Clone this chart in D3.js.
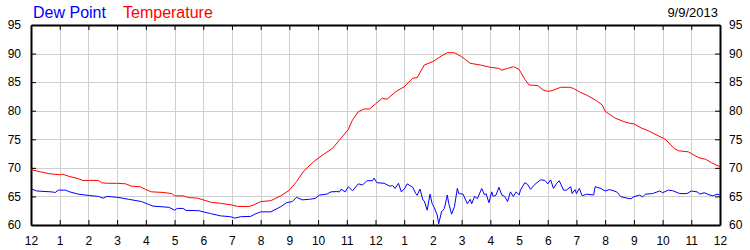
<!DOCTYPE html>
<html><head><meta charset="utf-8">
<script src="https://cdn.jsdelivr.net/npm/d3@7"></script>
<style>
html,body{margin:0;padding:0;background:#fff;}
svg{display:block;font-family:Arial,"Liberation Sans",sans-serif;}
</style></head>
<body>
<svg id="chart" width="750" height="250"></svg>
<script>
const hourLabels = ["12","1","2","3","4","5","6","7","8","9","10","11","12","1","2","3","4","5","6","7","8","9","10","11","12"];
const yTicks = [60,65,70,75,80,85,90,95];
const dateLabel = "9/9/2013";
const seriesNames = ["Dew Point","Temperature"];

const tempHours = [0,0.33,0.66,1.0,1.1,1.33,1.66,1.8,2.0,2.35,2.45,2.66,3.0,3.3,3.5,3.8,4.0,4.2,4.6,4.9,5.0,5.3,5.5,5.8,6.0,6.25,6.6,7.0,7.2,7.6,7.75,8.0,8.35,8.7,9.0,9.25,9.5,9.85,10.2,10.5,10.75,11.05,11.2,11.4,11.6,11.8,12.0,12.24,12.4,12.7,13.0,13.3,13.45,13.7,14.0,14.3,14.5,14.75,15.0,15.3,15.65,16.0,16.3,16.4,16.6,16.8,17.0,17.2,17.35,17.65,17.85,18.0,18.15,18.45,18.75,18.9,19.1,19.35,19.7,19.9,20.0,20.35,20.65,20.85,21.0,21.25,21.5,21.85,22.1,22.4,22.55,22.9,23.0,23.25,23.5,23.7,24];
const tempValues = [69.7,69.3,68.95,68.8,68.9,68.5,68.1,67.8,67.8,67.8,67.4,67.3,67.3,67.2,66.8,66.7,66.2,65.8,65.7,65.5,65.1,65.1,64.8,64.7,64.4,64.0,63.8,63.5,63.25,63.25,63.5,64.1,64.25,65.1,66.1,67.6,69.45,71.1,72.4,73.4,74.9,76.7,78.4,79.8,80.3,80.3,81.2,82.2,82.0,83.3,84.2,85.7,85.8,88.0,88.6,89.6,90.15,90.15,89.45,88.3,88.0,87.6,87.4,87.1,87.4,87.7,87.25,85.5,84.5,84.4,83.6,83.4,83.5,84.1,84.1,83.9,83.3,82.75,81.75,81.0,79.9,78.7,78.1,77.8,77.7,77.0,76.5,75.6,75.0,73.4,73.0,72.8,72.5,71.8,71.5,70.9,70.2];

const dewHours = [0,0.2,0.7,0.85,0.95,1.2,1.35,1.65,2.05,2.35,2.5,2.65,3.0,3.4,3.85,4.1,4.25,4.8,5.0,5.1,5.3,5.4,5.85,6.0,6.25,6.6,6.95,7.1,7.3,7.65,7.8,8.0,8.35,8.7,8.9,9.1,9.25,9.45,9.7,9.9,10.05,10.3,10.45,10.65,10.75,10.8,10.95,11.05,11.2,11.4,11.55,11.7,11.9,11.95,12.05,12.3,12.5,12.6,12.68,12.8,12.9,13.03,13.1,13.3,13.4,13.45,13.55,13.65,13.7,13.8,13.9,13.97,14.05,14.15,14.2,14.3,14.4,14.5,14.55,14.65,14.75,14.85,14.9,15.05,15.2,15.3,15.35,15.45,15.55,15.7,15.8,15.85,15.95,16.05,16.1,16.2,16.3,16.4,16.5,16.6,16.7,16.8,16.9,17.0,17.05,17.2,17.3,17.4,17.55,17.75,17.9,18.0,18.1,18.2,18.3,18.4,18.55,18.65,18.8,18.85,18.95,19.0,19.1,19.2,19.35,19.6,19.65,19.85,20.0,20.15,20.4,20.55,20.8,20.9,21.0,21.2,21.3,21.4,21.65,21.9,22.0,22.2,22.35,22.6,22.85,23.0,23.2,23.3,23.45,23.65,23.75,23.9,24];
const dewValues = [66.35,65.95,65.8,65.7,66.1,66.1,65.8,65.4,65.15,65.0,64.7,65.0,64.85,64.5,64.1,63.6,63.3,63.1,62.6,62.9,62.9,62.55,62.5,62.3,62.0,61.6,61.45,61.2,61.45,61.5,61.9,62.3,62.3,63.2,63.9,64.1,64.85,64.4,64.5,64.65,65.25,65.4,65.8,65.85,65.8,66.25,65.8,66.7,66.0,67.2,67.0,67.75,67.75,68.2,67.4,67.3,66.8,66.9,66.4,67.3,65.8,66.5,67.2,66.6,65.5,65.2,66.3,64.4,64.2,62.6,65.4,63.8,63.0,61.75,60.2,62.3,62.9,65.25,63.8,61.9,63.2,66.4,65.5,65.4,63.7,64.5,63.7,65.0,64.6,66.4,65.25,65.5,63.9,65.8,65.0,65.25,66.6,65.25,65.0,64.1,65.8,65.0,65.8,65.25,66.1,67.4,67.1,66.25,67.1,67.9,67.8,67.2,67.9,66.4,67.2,67.75,66.1,66.1,66.7,65.5,66.2,65.5,66.4,65.1,65.4,65.25,66.7,66.4,65.95,66.2,65.8,64.95,64.65,64.6,64.95,65.25,64.9,65.4,65.5,65.95,65.65,66.1,66.0,65.5,65.5,65.95,65.8,65.4,65.65,65.25,65.1,65.4,65.25];

const svg = d3.select("#chart");
const L = 31, R = 720, T = 25, B = 225;
const x = d3.scaleLinear().domain([0,24]).range([L,R]);
const y = d3.scaleLinear().domain([60,95]).range([B,T]);
const hourIdx = d3.range(hourLabels.length);

// grid
const grid = svg.append("g").attr("stroke","#d0d0d0").attr("stroke-width",1);
grid.selectAll("line.v").data(hourIdx.slice(1,-1)).join("line")
  .attr("x1",d=>Math.round(x(d))+0.5).attr("x2",d=>Math.round(x(d))+0.5)
  .attr("y1",T).attr("y2",B);
grid.selectAll("line.h").data(yTicks.slice(1,-1)).join("line")
  .attr("y1",d=>Math.round(y(d))+0.5).attr("y2",d=>Math.round(y(d))+0.5)
  .attr("x1",L).attr("x2",R);

// axes via d3
const axB = d3.axisBottom(x).tickValues(hourIdx).tickFormat(i=>hourLabels[i]).tickSizeInner(-5).tickSizeOuter(0).tickPadding(11);
const axT = d3.axisTop(x).tickValues(hourIdx).tickFormat("").tickSizeInner(-5).tickSizeOuter(0);
const axL = d3.axisLeft(y).tickValues(yTicks).tickSizeInner(-5).tickSizeOuter(0).tickPadding(10);
const axR = d3.axisRight(y).tickValues(yTicks).tickSizeInner(-5).tickSizeOuter(0).tickPadding(9);

function style(g){
  g.select(".domain").attr("stroke","#000").attr("stroke-width",2);
  g.selectAll(".tick line").attr("stroke","#000").attr("stroke-width",1);
  g.selectAll(".tick text").attr("fill","#000").style("font-size","12px").style("font-family","Arial, 'Liberation Sans', sans-serif");
}
svg.append("g").attr("transform",`translate(0,${B})`).call(axB).call(style);
svg.append("g").attr("transform",`translate(0,${T})`).call(axT).call(style);
svg.append("g").attr("transform",`translate(${L},0)`).call(axL).call(style);
svg.append("g").attr("transform",`translate(${R},0)`).call(axR).call(style);

// lines
const line = d3.line().x(d=>x(d[0])).y(d=>y(d[1]));
svg.append("path").datum(d3.zip(dewHours,dewValues))
  .attr("fill","none").attr("stroke","#0000ff").attr("stroke-width",1).attr("d",line);
svg.append("path").datum(d3.zip(tempHours,tempValues))
  .attr("fill","none").attr("stroke","#ff0000").attr("stroke-width",1).attr("d",line);

// legend
svg.append("text").attr("x",33).attr("y",18).attr("fill","#0000ff").style("font-size","16px").text(seriesNames[0]);
svg.append("text").attr("x",123).attr("y",18).attr("fill","#ff0000").style("font-size","16px").text(seriesNames[1]);
svg.append("text").attr("x",718).attr("y",17).attr("text-anchor","end").attr("fill","#000").style("font-size","13px").text(dateLabel);
</script>
</body></html>
